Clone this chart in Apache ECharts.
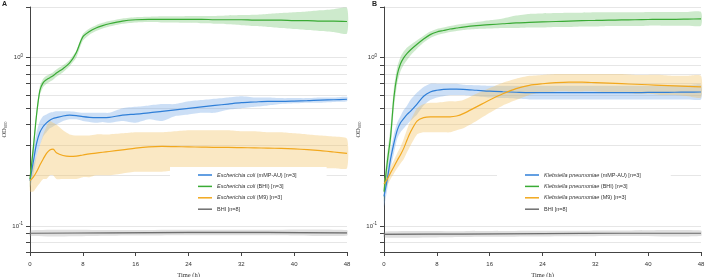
<!DOCTYPE html>
<html>
<head>
  <meta charset="utf-8">
  <title>OD600 growth curves</title>
  <script src="https://cdn.jsdelivr.net/npm/echarts@6/dist/echarts.min.js"></script>
</head>
<body style="margin: 0; background: #fff">
  <div id="main" style="width: 705px; height: 277px"></div>
  <script>
    // time points (h)
    const T = [0, 0.5, 1, 1.5, 2, 2.5, 3, 3.5, 4, 5, 6, 7, 8, 9, 10, 11, 12, 14, 16, 18, 20, 22, 24, 26, 28, 30, 32, 34, 36, 38, 40, 42, 44, 46, 48];
    const TG = [0, 12, 24, 36, 48];
    const xTicks = [0, 8, 16, 24, 32, 40, 48];
    const yTicks = [0.07, 0.08, 0.09, 0.1, 0.2, 0.3, 0.4, 0.5, 0.6, 0.7, 0.8, 0.9, 1, 2];
    const yLabels = [0.1, 1];

    // panel A - E. coli
    const aNames = ['Escherichia coli (mMP-AU) [n=3]', 'Escherichia coli (BHI) [n=3]', 'Escherichia coli (M9) [n=3]', 'BHI [n=8]'];
    const aBlue = [0.186, 0.24, 0.31, 0.36, 0.39, 0.41, 0.425, 0.435, 0.44, 0.45, 0.455, 0.452, 0.446, 0.442, 0.44, 0.44, 0.442, 0.455, 0.462, 0.47, 0.48, 0.49, 0.50, 0.51, 0.52, 0.53, 0.54, 0.545, 0.55, 0.55, 0.552, 0.555, 0.56, 0.562, 0.566];
    const aBlueLo = [0.17, 0.20, 0.26, 0.30, 0.34, 0.36, 0.38, 0.39, 0.40, 0.42, 0.43, 0.43, 0.42, 0.415, 0.41, 0.415, 0.41, 0.42, 0.41, 0.43, 0.42, 0.45, 0.46, 0.47, 0.47, 0.49, 0.50, 0.51, 0.52, 0.53, 0.535, 0.54, 0.54, 0.545, 0.55];
    const aBlueHi = [0.20, 0.28, 0.36, 0.42, 0.45, 0.46, 0.47, 0.475, 0.48, 0.48, 0.48, 0.475, 0.47, 0.47, 0.47, 0.47, 0.47, 0.50, 0.51, 0.52, 0.53, 0.53, 0.55, 0.56, 0.57, 0.58, 0.59, 0.58, 0.58, 0.575, 0.575, 0.575, 0.58, 0.58, 0.585];
    const aGreen = [0.19, 0.29, 0.46, 0.64, 0.71, 0.74, 0.76, 0.78, 0.81, 0.86, 0.93, 1.07, 1.33, 1.43, 1.50, 1.55, 1.59, 1.65, 1.68, 1.69, 1.69, 1.69, 1.69, 1.69, 1.68, 1.68, 1.68, 1.67, 1.67, 1.67, 1.66, 1.66, 1.65, 1.65, 1.64];
    const aGreenLo = [0.17, 0.27, 0.43, 0.60, 0.67, 0.70, 0.72, 0.74, 0.77, 0.82, 0.89, 1.00, 1.26, 1.37, 1.44, 1.49, 1.53, 1.59, 1.62, 1.63, 1.62, 1.62, 1.61, 1.60, 1.59, 1.58, 1.56, 1.54, 1.52, 1.50, 1.48, 1.46, 1.44, 1.42, 1.39];
    const aGreenHi = [0.21, 0.31, 0.49, 0.68, 0.75, 0.78, 0.80, 0.82, 0.85, 0.90, 0.97, 1.10, 1.38, 1.49, 1.56, 1.61, 1.65, 1.71, 1.74, 1.75, 1.76, 1.76, 1.77, 1.77, 1.77, 1.78, 1.79, 1.80, 1.82, 1.84, 1.86, 1.88, 1.91, 1.94, 1.97];
    const aOrange = [0.186, 0.195, 0.21, 0.23, 0.25, 0.27, 0.283, 0.286, 0.272, 0.262, 0.259, 0.26, 0.264, 0.268, 0.271, 0.274, 0.277, 0.283, 0.29, 0.295, 0.297, 0.296, 0.295, 0.294, 0.293, 0.293, 0.292, 0.291, 0.29, 0.289, 0.287, 0.284, 0.28, 0.275, 0.27];
    const aOrangeLo = [0.16, 0.16, 0.17, 0.18, 0.19, 0.19, 0.20, 0.20, 0.19, 0.19, 0.19, 0.19, 0.195, 0.195, 0.20, 0.20, 0.20, 0.205, 0.21, 0.21, 0.21, 0.215, 0.22, 0.22, 0.22, 0.22, 0.22, 0.22, 0.22, 0.22, 0.22, 0.22, 0.22, 0.22, 0.22];
    const aOrangeHi = [0.21, 0.23, 0.26, 0.30, 0.35, 0.39, 0.42, 0.41, 0.40, 0.37, 0.35, 0.345, 0.345, 0.345, 0.35, 0.35, 0.35, 0.355, 0.36, 0.36, 0.36, 0.365, 0.37, 0.37, 0.37, 0.37, 0.365, 0.365, 0.36, 0.36, 0.355, 0.35, 0.345, 0.34, 0.33];
    const aGray = [0.0905, 0.091, 0.0915, 0.0915, 0.091];
    const aGrayLo = [0.087, 0.0875, 0.088, 0.088, 0.0875];
    const aGrayHi = [0.094, 0.0945, 0.095, 0.095, 0.0945];

    // panel B - K. pneumoniae
    const bNames = ['Klebsiella pneumoniae (mMP-AU) [n=3]', 'Klebsiella pneumoniae (BHI) [n=3]', 'Klebsiella pneumoniae (M9) [n=3]', 'BHI [n=8]'];
    const bBlue = [0.15, 0.19, 0.25, 0.31, 0.37, 0.41, 0.435, 0.46, 0.48, 0.53, 0.59, 0.625, 0.64, 0.648, 0.65, 0.65, 0.648, 0.64, 0.632, 0.627, 0.623, 0.62, 0.62, 0.62, 0.62, 0.62, 0.62, 0.62, 0.62, 0.62, 0.621, 0.622, 0.623, 0.624, 0.625];
    const bBlueLo = [0.13, 0.165, 0.22, 0.27, 0.33, 0.36, 0.38, 0.40, 0.42, 0.46, 0.52, 0.56, 0.58, 0.59, 0.60, 0.60, 0.60, 0.59, 0.58, 0.575, 0.57, 0.565, 0.565, 0.565, 0.565, 0.565, 0.565, 0.565, 0.565, 0.565, 0.565, 0.565, 0.565, 0.565, 0.565];
    const bBlueHi = [0.17, 0.215, 0.28, 0.35, 0.41, 0.45, 0.49, 0.52, 0.56, 0.62, 0.67, 0.70, 0.70, 0.70, 0.70, 0.70, 0.69, 0.685, 0.68, 0.68, 0.68, 0.68, 0.68, 0.68, 0.68, 0.68, 0.68, 0.68, 0.68, 0.68, 0.68, 0.68, 0.685, 0.685, 0.69];
    const bGreen = [0.16, 0.24, 0.34, 0.58, 0.79, 0.92, 1.0, 1.06, 1.11, 1.2, 1.29, 1.37, 1.42, 1.45, 1.48, 1.50, 1.52, 1.55, 1.57, 1.59, 1.61, 1.62, 1.63, 1.64, 1.65, 1.66, 1.665, 1.67, 1.675, 1.68, 1.685, 1.69, 1.69, 1.695, 1.70];
    const bGreenLo = [0.14, 0.21, 0.29, 0.50, 0.70, 0.83, 0.91, 0.97, 1.03, 1.13, 1.23, 1.31, 1.36, 1.39, 1.42, 1.44, 1.46, 1.48, 1.49, 1.50, 1.50, 1.51, 1.51, 1.52, 1.52, 1.53, 1.53, 1.54, 1.54, 1.54, 1.55, 1.55, 1.55, 1.55, 1.55];
    const bGreenHi = [0.18, 0.27, 0.39, 0.66, 0.88, 1.01, 1.09, 1.15, 1.19, 1.27, 1.35, 1.43, 1.48, 1.51, 1.54, 1.57, 1.59, 1.63, 1.67, 1.71, 1.78, 1.82, 1.83, 1.84, 1.85, 1.85, 1.86, 1.86, 1.86, 1.86, 1.87, 1.87, 1.87, 1.87, 1.87];
    const bOrange = [0.178, 0.19, 0.207, 0.225, 0.245, 0.265, 0.29, 0.325, 0.36, 0.42, 0.44, 0.445, 0.445, 0.445, 0.445, 0.45, 0.465, 0.51, 0.56, 0.61, 0.655, 0.685, 0.70, 0.71, 0.715, 0.715, 0.71, 0.705, 0.70, 0.695, 0.69, 0.685, 0.68, 0.675, 0.67];
    const bOrangeLo = [0.165, 0.175, 0.19, 0.205, 0.22, 0.235, 0.25, 0.275, 0.30, 0.35, 0.36, 0.36, 0.36, 0.36, 0.36, 0.37, 0.38, 0.42, 0.47, 0.52, 0.56, 0.60, 0.62, 0.63, 0.63, 0.63, 0.63, 0.62, 0.62, 0.61, 0.61, 0.60, 0.60, 0.59, 0.58];
    const bOrangeHi = [0.19, 0.205, 0.225, 0.245, 0.27, 0.295, 0.33, 0.375, 0.42, 0.50, 0.53, 0.54, 0.54, 0.545, 0.55, 0.55, 0.56, 0.61, 0.66, 0.71, 0.75, 0.78, 0.79, 0.80, 0.80, 0.80, 0.80, 0.80, 0.80, 0.79, 0.79, 0.79, 0.78, 0.78, 0.78];
    const bGray = [0.089, 0.0895, 0.09, 0.0905, 0.0905];
    const bGrayLo = [0.0855, 0.086, 0.0865, 0.087, 0.087];
    const bGrayHi = [0.0925, 0.093, 0.0935, 0.094, 0.094];

    const colors = ['#2f7fd8', '#3aab35', '#f2a81d', '#6e6e6e'];
    const bandColors = ['rgba(120,172,232,0.38)', 'rgba(100,190,95,0.32)', 'rgba(242,195,100,0.38)', 'rgba(150,150,150,0.3)'];
    const sans = 'Liberation Sans';
    const serif = 'Liberation Serif';

    const chart = echarts.init(document.getElementById('main'));

    function band(gi, xs, lo, hi, color) {
      return {
        type: 'custom', xAxisIndex: gi, yAxisIndex: gi, z: 1, silent: true,
        data: xs.map((x, i) => [x, lo[i], hi[i]]),
        encode: { x: 0, y: [1, 2] },
        renderItem: function (params, api) {
          if (params.dataIndex !== 0) return null;
          const pts = [];
          xs.forEach((x, i) => pts.push(api.coord([x, hi[i]])));
          for (let i = xs.length - 1; i >= 0; i--) pts.push(api.coord([xs[i], lo[i]]));
          return { type: 'polygon', shape: { points: pts, smooth: 0.2 }, style: { fill: color } };
        }
      };
    }

    function line(gi, name, xs, ys, color) {
      return {
        type: 'line', name: name, xAxisIndex: gi, yAxisIndex: gi, z: 3,
        data: xs.map((x, i) => [x, ys[i]]),
        symbol: 'none', smooth: 0.3,
        lineStyle: { width: 1.2, color: color },
        itemStyle: { color: color }
      };
    }

    function panelSeries(gi, names, sets) {
      const out = [];
      sets.forEach((s, k) => out.push(band(gi, s[0], s[2], s[3], bandColors[k])));
      sets.forEach((s, k) => out.push(line(gi, names[k], s[0], s[1], colors[k])));
      return out;
    }

    const series = [].concat(
      panelSeries(0, aNames, [
        [T, aBlue, aBlueLo, aBlueHi],
        [T, aGreen, aGreenLo, aGreenHi],
        [T, aOrange, aOrangeLo, aOrangeHi],
        [TG, aGray, aGrayLo, aGrayHi]
      ]),
      panelSeries(1, bNames, [
        [T, bBlue, bBlueLo, bBlueHi],
        [T, bGreen, bGreenLo, bGreenHi],
        [T, bOrange, bOrangeLo, bOrangeHi],
        [TG, bGray, bGrayLo, bGrayHi]
      ])
    );

    function legendFmt(name) {
      const m = name.match(/^(\S+ \S+)( \(.*)$/);
      if (!m) return name;
      return '{i|' + m[1] + '}' + m[2];
    }

    function legend(left, names) {
      return {
        data: names, orient: 'vertical', left: left, top: 167,
        backgroundColor: '#fff', padding: [4, 30, 5, 28],
        icon: 'rect', itemWidth: 14, itemHeight: 1.5, itemGap: 3.4,
        selectedMode: false,
        formatter: legendFmt,
        textStyle: {
          fontFamily: sans, fontSize: 5.5, color: '#333', lineHeight: 8,
          rich: { i: { fontFamily: sans, fontSize: 5.5, fontStyle: 'italic', color: '#333' } }
        }
      };
    }

    function xAxis(gi) {
      return {
        type: 'value', gridIndex: gi, min: 0, max: 48, interval: 8,
        name: 'Time (h)', nameLocation: 'middle', nameGap: 17,
        nameTextStyle: { fontFamily: serif, fontSize: 6.5, color: '#333' },
        axisLine: { lineStyle: { color: '#444', width: 1 } },
        axisTick: { length: 4, lineStyle: { color: '#444' } },
        axisLabel: { fontFamily: sans, fontSize: 6, color: '#333', margin: 9 },
        splitLine: { show: false }
      };
    }

    function yAxis(gi) {
      return {
        type: 'log', logBase: 10, gridIndex: gi, min: 0.07, max: 2,
        name: 'OD{s|600}', nameLocation: 'middle', nameGap: 22, nameRotate: 90,
        nameTextStyle: {
          fontFamily: serif, fontSize: 6.5, color: '#333',
          rich: { s: { fontFamily: serif, fontSize: 4.5, color: '#333', verticalAlign: 'bottom' } }
        },
        axisLine: { show: true, lineStyle: { color: '#444', width: 1 } },
        axisTick: { length: 4, lineStyle: { color: '#444' }, customValues: yTicks },
        axisLabel: {
          customValues: yLabels, fontFamily: sans, fontSize: 6, color: '#333', margin: 7,
          formatter: v => (v > 0.5 ? '10{s|0}' : '10{s|-1}'),
          rich: { s: { fontFamily: sans, fontSize: 4.5, color: '#333', verticalAlign: 'top', padding: [0, 0, 4, 0] } }
        },
        splitLine: { show: true, lineStyle: { color: '#e6e6e6', width: 1 } },
        minorTick: { show: false }
      };
    }

    chart.setOption({
      animation: false,
      grid: [
        { left: 30, top: 7, width: 317, height: 245, outerBoundsMode: 'none' },
        { left: 384, top: 7, width: 317, height: 245, outerBoundsMode: 'none' }
      ],
      xAxis: [xAxis(0), xAxis(1)],
      yAxis: [yAxis(0), yAxis(1)],
      legend: [legend(170, aNames), legend(497, bNames)],
      graphic: [
        { type: 'text', left: 2, top: 1, style: { text: 'A', fontFamily: sans, fontWeight: 'bold', fontSize: 7, fill: '#222' } },
        { type: 'text', left: 372, top: 1, style: { text: 'B', fontFamily: sans, fontWeight: 'bold', fontSize: 7, fill: '#222' } }
      ],
      series: series
    });
  </script>
</body>
</html>
